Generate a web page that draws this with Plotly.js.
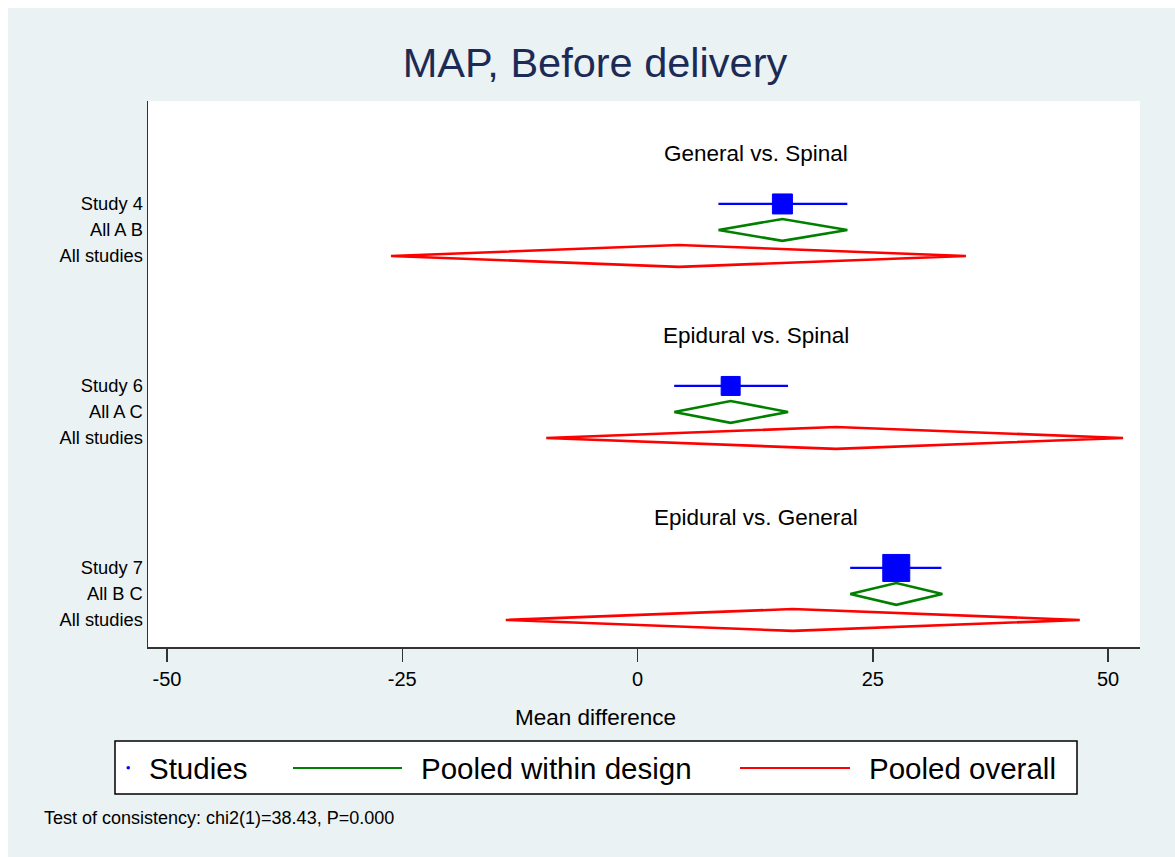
<!DOCTYPE html>
<html>
<head>
<meta charset="utf-8">
<script src="https://cdn.plot.ly/plotly-3.0.1.min.js"></script>
<style>
  html, body { margin: 0; padding: 0; background: #ffffff; }
  #chart { position: absolute; left: 8px; top: 8px; width: 1167px; height: 849px; }
</style>
</head>
<body>
<div id="chart"></div>
<script>
// ---- Data ----
const comparisons = ['General vs. Spinal', 'Epidural vs. Spinal', 'Epidural vs. General'];
const studyLabels = ['Study 4', 'Study 6', 'Study 7'];
const designLabels = ['All A B', 'All A C', 'All B C'];
const overallLabel = 'All studies';

const studyMD = [15.4, 9.9, 27.5];
const studyLo = [8.6, 3.9, 22.6];
const studyHi = [22.3, 16.0, 32.3];

const designMD = [15.4, 9.9, 27.5];
const designLo = [8.6, 3.9, 22.6];
const designHi = [22.3, 16.0, 32.4];

const overallMD = [4.4, 21.1, 16.5];
const overallLo = [-26.2, -9.7, -14.0];
const overallHi = [34.9, 51.6, 47.0];

const xTickVals = [-50, -25, 0, 25, 50];
const xTickText = ['-50', '-25', '0', '25', '50'];

const titleText = 'MAP, Before delivery';
const xTitle = 'Mean difference';
const legendNames = ['Studies', 'Pooled within design', 'Pooled overall'];
const footnote = 'Test of consistency: chi2(1)=38.43, P=0.000';

// ---- Layout helpers ----
const GROUP_STEP = 7;
const rowStudy = g => GROUP_STEP * g + 2;
const rowDesign = g => GROUP_STEP * g + 3;
const rowOverall = g => GROUP_STEP * g + 4;
const rowHeader = g => GROUP_STEP * g + 0.05;
const DIAM_H = 0.42;
const squareSizes = [20, 19, 27];
const FONT = 'Liberation Sans, Arial, sans-serif';

function diamonds(lo, mid, hi, rowFn) {
  const xs = [], ys = [];
  for (let g = 0; g < lo.length; g++) {
    const r = rowFn(g);
    xs.push(lo[g], mid[g], hi[g], mid[g], lo[g], null);
    ys.push(r, r - DIAM_H, r, r + DIAM_H, r, null);
  }
  return {xs, ys};
}

const ciX = [], ciY = [];
for (let g = 0; g < studyMD.length; g++) {
  ciX.push(studyLo[g], studyHi[g], null);
  ciY.push(rowStudy(g), rowStudy(g), null);
}
const dGreen = diamonds(designLo, designMD, designHi, rowDesign);
const dRed = diamonds(overallLo, overallMD, overallHi, rowOverall);

const traces = [
  {x: dRed.xs, y: dRed.ys, mode: 'lines', line: {color: '#FF0000', width: 2.6}, hoverinfo: 'skip', showlegend: false},
  {x: dGreen.xs, y: dGreen.ys, mode: 'lines', line: {color: '#008000', width: 2.6}, hoverinfo: 'skip', showlegend: false},
  {x: ciX, y: ciY, mode: 'lines', line: {color: '#0000FF', width: 2.2}, hoverinfo: 'skip', showlegend: false},
  {x: studyMD, y: studyMD.map((_, g) => rowStudy(g)), mode: 'markers',
   marker: {symbol: 'square', color: '#0000FF', opacity: 1, size: squareSizes, line: {color: '#0000FF', width: 1}},
   showlegend: false}
];

const tickvals = [], ticktext = [];
for (let g = 0; g < comparisons.length; g++) {
  tickvals.push(rowStudy(g), rowDesign(g), rowOverall(g));
  ticktext.push(studyLabels[g], designLabels[g], overallLabel);
}

// plot area in page px: left 148, right 1140, top 101, bottom 647
const PX = x => (x - 148) / 992;
const PY = y => (647 - y) / 546;

const annotations = comparisons.map((c, g) => ({
  text: c, xref: 'paper', x: 0.613, yref: 'y', y: rowHeader(g),
  showarrow: false, xanchor: 'center', yanchor: 'middle',
  font: {family: FONT, size: 22.5, color: '#000'}
}));

const legFont = {family: FONT, size: 29.5, color: '#000'};
annotations.push(
  {text: legendNames[0], xref: 'paper', yref: 'paper', x: PX(147), y: PY(768), xanchor: 'left', yanchor: 'middle', showarrow: false, font: legFont},
  {text: legendNames[1], xref: 'paper', yref: 'paper', x: PX(419), y: PY(768), xanchor: 'left', yanchor: 'middle', showarrow: false, font: legFont},
  {text: legendNames[2], xref: 'paper', yref: 'paper', x: PX(867), y: PY(768), xanchor: 'left', yanchor: 'middle', showarrow: false, font: legFont},
  {text: footnote, xref: 'paper', yref: 'paper', x: PX(42), y: PY(818), xanchor: 'left', yanchor: 'middle', showarrow: false,
   font: {family: FONT, size: 18, color: '#000'}},
  {text: xTitle, xref: 'paper', yref: 'paper', x: PX(595), y: PY(717), xanchor: 'center', yanchor: 'middle', showarrow: false,
   font: {family: FONT, size: 22.5, color: '#000'}}
);

const shapes = [
  {type: 'rect', xref: 'paper', yref: 'paper', x0: PX(115), x1: PX(1077), y0: PY(741), y1: PY(794),
   line: {color: '#000', width: 1.5}, fillcolor: '#FFFFFF', layer: 'below'},
  {type: 'line', xref: 'paper', yref: 'paper', x0: PX(293), x1: PX(402), y0: PY(768), y1: PY(768), line: {color: '#008000', width: 2.2}},
  {type: 'line', xref: 'paper', yref: 'paper', x0: PX(740), x1: PX(850), y0: PY(768), y1: PY(768), line: {color: '#FF0000', width: 2.2}},
  {type: 'circle', xref: 'paper', yref: 'paper', x0: PX(126.5), x1: PX(130), y0: PY(766), y1: PY(769.5), line: {color: '#0000FF', width: 0}, fillcolor: '#0000FF'}
];

const layout = {
  width: 1167, height: 849,
  margin: {l: 140, r: 35, t: 93, b: 210, pad: 0},
  paper_bgcolor: '#EAF2F3',
  plot_bgcolor: '#FFFFFF',
  title: {text: titleText, xref: 'paper', x: PX(595), xanchor: 'center', yref: 'container', y: 1 - (62 - 8) / 849, yanchor: 'middle',
          font: {family: FONT, size: 41.5, color: '#1C2B55'}},
  xaxis: {
    range: [(148 - 637.5) / 9.41, (1140 - 637.5) / 9.41],
    tickvals: xTickVals, ticktext: xTickText,
    ticks: 'outside', ticklen: 13, tickwidth: 1.5, tickcolor: '#333',
    showline: true, linecolor: '#333', linewidth: 1.5,
    showgrid: false, zeroline: false,
    tickfont: {family: FONT, size: 20, color: '#000'},
    fixedrange: true
  },
  yaxis: {
    range: [19.04, -1.96],
    tickvals: tickvals, ticktext: ticktext,
    ticks: '', showline: true, linecolor: '#333', linewidth: 1.5,
    showgrid: false, zeroline: false,
    tickfont: {family: FONT, size: 18.3, color: '#000'},
    fixedrange: true
  },
  annotations: annotations,
  shapes: shapes,
  showlegend: false
};

Plotly.newPlot('chart', traces, layout, {displayModeBar: false, staticPlot: true});
</script>
</body>
</html>
